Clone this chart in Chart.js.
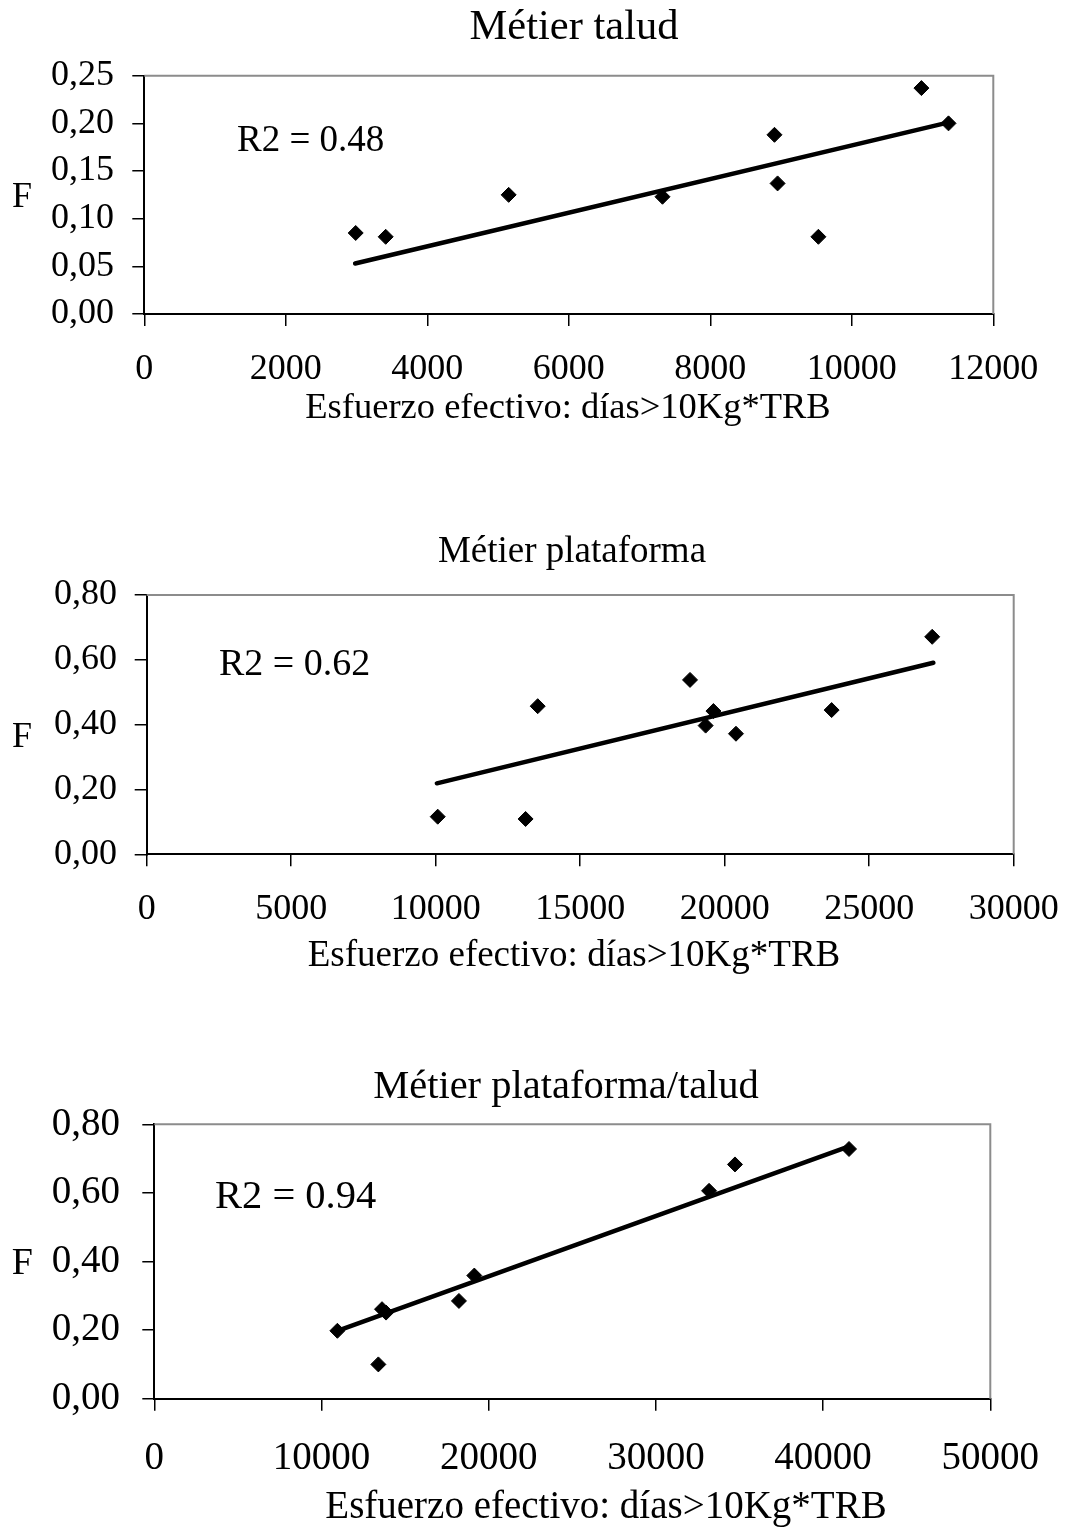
<!DOCTYPE html>
<html lang="es">
<head>
<meta charset="utf-8">
<title>Métier: F frente a esfuerzo efectivo</title>
<script src="https://cdn.jsdelivr.net/npm/chart.js@4.4.1/dist/chart.umd.min.js"></script>
<style>
    html, body { margin: 0; padding: 0; background: #ffffff; }
    body { position: relative; width: 1067px; height: 1529px; overflow: hidden; }
    canvas { position: absolute; left: 0; }
</style>
</head>
<body>
<canvas id="chartTalud" width="1067" height="470" style="top:0px"></canvas>
<canvas id="chartPlataforma" width="1067" height="540" style="top:470px"></canvas>
<canvas id="chartMixto" width="1067" height="519" style="top:1010px"></canvas>
<script>
// Métier talud
const taludX = [2988, 3412, 5150, 7324, 8907, 8951, 9528, 10984, 11367];
const taludF = [0.085, 0.081, 0.125, 0.123, 0.188, 0.137, 0.081, 0.237, 0.200];
const taludTrendX = [2980, 11370];
const taludTrendF = [0.053, 0.201];
const taludXTicks = [0, 2000, 4000, 6000, 8000, 10000, 12000];
const taludYTicks = [0, 0.05, 0.10, 0.15, 0.20, 0.25];

// Métier plataforma
const plataformaX = [10070, 13110, 13530, 18800, 19340, 19610, 20390, 23700, 27180];
const plataformaF = [0.116, 0.109, 0.457, 0.538, 0.397, 0.442, 0.372, 0.445, 0.671];
const plataformaTrendX = [10040, 27220];
const plataformaTrendF = [0.219, 0.591];
const plataformaXTicks = [0, 5000, 10000, 15000, 20000, 25000, 30000];
const plataformaYTicks = [0, 0.20, 0.40, 0.60, 0.80];

// Métier plataforma/talud
const mixtoX = [10950, 13400, 13620, 13860, 18220, 19140, 33180, 34730, 41550];
const mixtoF = [0.198, 0.100, 0.261, 0.251, 0.285, 0.359, 0.606, 0.683, 0.728];
const mixtoTrendX = [10950, 41510];
const mixtoTrendF = [0.198, 0.735];
const mixtoXTicks = [0, 10000, 20000, 30000, 40000, 50000];
const mixtoYTicks = [0, 0.20, 0.40, 0.60, 0.80];

const titles = [`Métier talud`, `Métier plataforma`, `Métier plataforma/talud`];
const r2Labels = [`R2 = 0.48`, `R2 = 0.62`, `R2 = 0.94`];
const xAxisLabel = `Esfuerzo efectivo: días>10Kg*TRB`;
const yAxisLabel = `F`;

const serif = `"Liberation Serif", "Times New Roman", serif`;

const panels = [
    {
        canvasId: `chartTalud`, top: 0, height: 470,
        plot: { left: 144.3, right: 993.3, top: 75.7, bottom: 314 },
        xs: taludX, ys: taludF, trendX: taludTrendX, trendY: taludTrendF,
        xTicks: taludXTicks, yTicks: taludYTicks,
        title: titles[0], r2: r2Labels[0],
        fonts: { title: 42.5, tick: 36, axis: 36.5, r2: 37, f: 36 },
        titlePos: [574, 39], r2Pos: [237, 150.7], fPos: [12, 207], axisPos: [568, 418],
        yTickPad: 18.3, xTickPad: 22.4
    },
    {
        canvasId: `chartPlataforma`, top: 470, height: 540,
        plot: { left: 146.7, right: 1013.7, top: 595, bottom: 854.3 },
        xs: plataformaX, ys: plataformaF, trendX: plataformaTrendX, trendY: plataformaTrendF,
        xTicks: plataformaXTicks, yTicks: plataformaYTicks,
        title: titles[1], r2: r2Labels[1],
        fonts: { title: 37, tick: 36, axis: 37, r2: 38, f: 36 },
        titlePos: [572, 561.7], r2Pos: [219, 675], fPos: [12, 747], axisPos: [574, 966],
        yTickPad: 17.7, xTickPad: 22.1
    },
    {
        canvasId: `chartMixto`, top: 1010, height: 519,
        plot: { left: 154.3, right: 990.3, top: 1124.3, bottom: 1398.7 },
        xs: mixtoX, ys: mixtoF, trendX: mixtoTrendX, trendY: mixtoTrendF,
        xTicks: mixtoXTicks, yTicks: mixtoYTicks,
        title: titles[2], r2: r2Labels[2],
        fonts: { title: 40.5, tick: 39, axis: 39, r2: 40.5, f: 38 },
        titlePos: [566, 1098.3], r2Pos: [215, 1208.3], fPos: [11.7, 1274.3], axisPos: [606, 1518.3],
        yTickPad: 22.3, xTickPad: 24.2
    }
];

// gray top/right frame of the plot box
const framePlugin = {
    id: `frame`,
    afterDraw(chart) {
        const { ctx, chartArea } = chart;
        ctx.save();
        ctx.strokeStyle = `#8c8c8c`;
        ctx.lineWidth = 2;
        ctx.beginPath();
        ctx.moveTo(chartArea.left, chartArea.top);
        ctx.lineTo(chartArea.right, chartArea.top);
        ctx.lineTo(chartArea.right, chartArea.bottom);
        ctx.stroke();
        ctx.restore();
    }
};

function textPlugin(panel) {
    const items = [
        { text: panel.title, size: panel.fonts.title, align: `center`, pos: panel.titlePos },
        { text: panel.r2, size: panel.fonts.r2, align: `left`, pos: panel.r2Pos },
        { text: yAxisLabel, size: panel.fonts.f, align: `left`, pos: panel.fPos },
        { text: xAxisLabel, size: panel.fonts.axis, align: `center`, pos: panel.axisPos }
    ];
    return {
        id: `texts`,
        afterDraw(chart) {
            const ctx = chart.ctx;
            ctx.save();
            ctx.fillStyle = `#000`;
            ctx.textBaseline = `alphabetic`;
            items.forEach(item => {
                ctx.font = `${item.size}px ${serif}`;
                ctx.textAlign = item.align;
                ctx.fillText(item.text, item.pos[0], item.pos[1] - panel.top);
            });
            ctx.restore();
        }
    };
}

function drawPanel(panel) {
    const ctx = document.getElementById(panel.canvasId).getContext(`2d`);
    const points = panel.xs.map((x, i) => ({ x: x, y: panel.ys[i] }));
    const trend = panel.trendX.map((x, i) => ({ x: x, y: panel.trendY[i] }));
    const xTicks = panel.xTicks;
    const yTicks = panel.yTicks;

    return new Chart(ctx, {
        type: `scatter`,
        data: {
            datasets: [
                {
                    data: points,
                    pointStyle: `rectRot`,
                    pointRadius: 7.5,
                    pointHoverRadius: 7.5,
                    backgroundColor: `#000`,
                    borderColor: `#000`,
                    borderWidth: 1,
                    showLine: false
                },
                {
                    data: trend,
                    showLine: true,
                    pointRadius: 0,
                    borderColor: `#000`,
                    borderWidth: 4.5,
                    borderCapStyle: `round`,
                    fill: false
                }
            ]
        },
        options: {
            responsive: false,
            animation: false,
            events: [],
            layout: {
                padding: {
                    top: panel.plot.top - panel.top,
                    left: 0,
                    right: 1067 - panel.plot.right,
                    bottom: 0
                }
            },
            plugins: {
                legend: { display: false },
                tooltip: { enabled: false },
                title: { display: false }
            },
            scales: {
                x: {
                    type: `linear`,
                    min: xTicks[0],
                    max: xTicks[xTicks.length - 1],
                    afterBuildTicks: scale => { scale.ticks = xTicks.map(v => ({ value: v })); },
                    afterFit: scale => {
                        scale.height = panel.top + panel.height - panel.plot.bottom;
                        scale.paddingLeft = 0;
                        scale.paddingRight = 0;
                    },
                    grid: { drawOnChartArea: false, drawTicks: true, tickLength: 12, color: `#000`, lineWidth: 1.5 },
                    border: { display: true, color: `#000`, width: 2 },
                    ticks: {
                        autoSkip: false,
                        maxRotation: 0,
                        padding: panel.xTickPad,
                        color: `#000`,
                        font: { family: serif, size: panel.fonts.tick, lineHeight: 1.2 },
                        callback: value => String(value)
                    }
                },
                y: {
                    type: `linear`,
                    min: yTicks[0],
                    max: yTicks[yTicks.length - 1],
                    afterBuildTicks: scale => { scale.ticks = yTicks.map(v => ({ value: v })); },
                    afterFit: scale => { scale.width = panel.plot.left; },
                    grid: { drawOnChartArea: false, drawTicks: true, tickLength: 12, color: `#000`, lineWidth: 1.5 },
                    border: { display: true, color: `#000`, width: 2 },
                    ticks: {
                        padding: panel.yTickPad,
                        color: `#000`,
                        font: { family: serif, size: panel.fonts.tick, lineHeight: 1.2 },
                        callback: value => value.toFixed(2).replace(`.`, `,`)
                    }
                }
            }
        },
        plugins: [framePlugin, textPlugin(panel)]
    });
}

panels.forEach(drawPanel);
</script>
</body>
</html>
